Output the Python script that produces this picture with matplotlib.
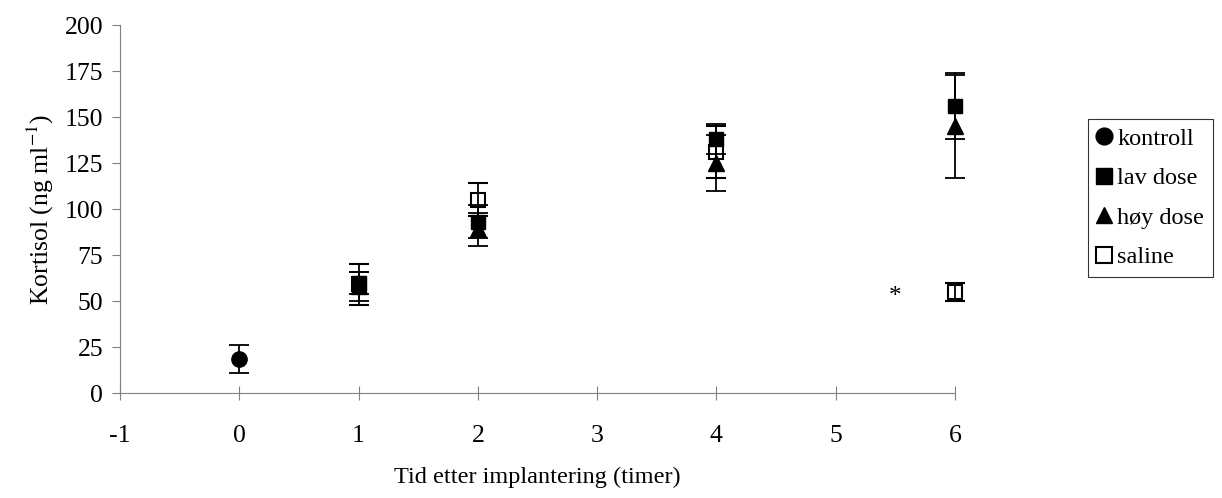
import matplotlib.pyplot as plt

plt.rcParams['font.family'] = ['Liberation Serif', 'DejaVu Serif']
plt.rcParams['font.size'] = 18.5
plt.rcParams['mathtext.fontset'] = 'stix'
plt.rcParams['axes.unicode_minus'] = False

# data
kontroll_x = [0]
kontroll_y = [18.5]
kontroll_err = [7.7]

lav_x = [1, 2, 4, 6]
lav_y = [60, 93, 138, 156]
lav_err = [6, 9, 8, 18]

hoy_x = [1, 2, 4, 6]
hoy_y = [58, 89, 125, 145]
hoy_err = [8, 9, 15, 28]

saline_x = [1, 2, 4, 6]
saline_y = [59, 105, 131, 55]
saline_err = [11, 9, 14, 5]

fig = plt.figure(figsize=(12.22, 4.98), dpi=100)
ax = fig.add_axes([120/1222, 105/498, 835/1222, 368/498])

ebkw = dict(ecolor='black', elinewidth=1.3, capsize=7, capthick=1.3, linestyle='none')

series = []
series.append(ax.errorbar(kontroll_x, kontroll_y, yerr=kontroll_err, marker='o', markersize=11,
                          color='black', label='kontroll', **ebkw))
series.append(ax.errorbar(saline_x, saline_y, yerr=saline_err, marker='s', markersize=10,
                          markerfacecolor='none', markeredgecolor='black', markeredgewidth=1.5,
                          label='saline', **ebkw))
series.append(ax.errorbar(lav_x, lav_y, yerr=lav_err, marker='s', markersize=10,
                          color='black', label='lav dose', **ebkw))
series.append(ax.errorbar(hoy_x, hoy_y, yerr=hoy_err, marker='^', markersize=11,
                          color='black', label='høy dose', **ebkw))
for s in series:
    for a in s.get_children():
        a.set_clip_on(False)

ax.text(5.5, 52, '*', ha='center', va='center', fontsize=18)

ax.set_xlim(-1, 6)
ax.set_ylim(0, 200)
ax.set_xticks(range(-1, 7))
ax.set_yticks(range(0, 201, 25))
ax.spines['top'].set_visible(False)
ax.spines['right'].set_visible(False)
ax.spines['left'].set_color('#808080')
ax.spines['bottom'].set_color('#808080')
ax.tick_params(axis='x', direction='inout', length=10, color='#808080', pad=18)
ax.tick_params(axis='y', direction='out', length=6, color='#808080', pad=6)
for sp in ('left', 'bottom'):
    ax.spines[sp].set_zorder(0)

ax.set_xlabel('Tid etter implantering (timer)', labelpad=14, fontsize=17.5)
ax.set_ylabel('Kortisol (ng ml$^{-1}$)', labelpad=6)

handles, labels = ax.get_legend_handles_labels()
order = [0, 2, 3, 1]
leg = fig.legend([handles[i][0] for i in order], [labels[i] for i in order],
                 loc='upper left', bbox_to_anchor=(1088/1222, 1 - 119/498),
                 frameon=True, fancybox=False, edgecolor='black',
                 handlelength=0.6, handletextpad=0.25, borderpad=0.35,
                 labelspacing=0.72, borderaxespad=0, fontsize=17.5, markerscale=1.1)
leg.get_frame().set_linewidth(0.8)

fig.savefig('out.png', dpi=100)
